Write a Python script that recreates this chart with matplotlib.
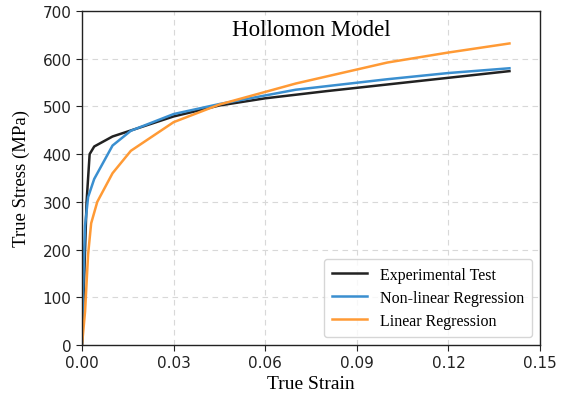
import matplotlib
matplotlib.use("Agg")
import matplotlib.pyplot as plt

exp_strain = [0.0, 0.0005, 0.001, 0.0015, 0.0025, 0.004, 0.01, 0.02, 0.03, 0.045, 0.06, 0.08, 0.10, 0.12, 0.14]
exp_stress = [0, 100, 200, 300, 400, 416, 437, 458, 479, 502, 517, 532, 546, 560, 574]

nl_strain = [0.0, 0.0005, 0.001, 0.002, 0.004, 0.01, 0.016, 0.03, 0.045, 0.07, 0.10, 0.12, 0.14]
nl_stress = [0, 150, 250, 310, 348, 418, 449, 484, 505, 535, 557, 570, 580]

lin_strain = [0.0, 0.001, 0.002, 0.003, 0.005, 0.01, 0.016, 0.03, 0.045, 0.07, 0.10, 0.12, 0.14]
lin_stress = [0, 70, 190, 255, 300, 360, 407, 467, 504, 548, 592, 613, 632]

serif = ["Liberation Serif", "DejaVu Serif"]

fig = plt.figure(figsize=(5.65, 4.02), dpi=100)
ax = fig.add_axes([82/565, 1-346/402, 458/565, 334/402])

ax.plot(exp_strain, exp_stress, color="#222222", lw=1.8, label="Experimental Test")
ax.plot(nl_strain, nl_stress, color="#3a8fd0", lw=1.8, label="Non-linear Regression")
ax.plot(lin_strain, lin_stress, color="#ff9a35", lw=1.8, label="Linear Regression")

ax.set_xlim(0, 0.15)
ax.set_ylim(0, 700)
ax.set_xticks([0.0, 0.03, 0.06, 0.09, 0.12, 0.15])
ax.set_xticklabels(["0.00", "0.03", "0.06", "0.09", "0.12", "0.15"])
ax.set_yticks(range(0, 701, 100))
ax.tick_params(labelsize=11, colors="#222222", direction="out", length=4)
ax.grid(True, ls=(0, (5, 4)), color="#d8d8d8", lw=0.8)
for s in ax.spines.values():
    s.set_color("#222222")
    s.set_linewidth(1.0)

ax.set_xlabel("True Strain", family=serif, fontsize=14, labelpad=3)
ax.set_ylabel("True Stress (MPa)", family=serif, fontsize=13.5, labelpad=9)
ax.text(0.5, 0.945, "Hollomon Model", transform=ax.transAxes, ha="center", va="center",
        family=serif, fontsize=16.5)

leg = ax.legend(loc="lower right", prop={"family": serif, "size": 11.5}, frameon=True,
                fancybox=True, borderpad=0.5, handlelength=2.2, handletextpad=0.8,
                labelspacing=0.45, borderaxespad=0.5)
leg.get_frame().set_edgecolor("#cccccc")

fig.savefig("out.png", dpi=100)
